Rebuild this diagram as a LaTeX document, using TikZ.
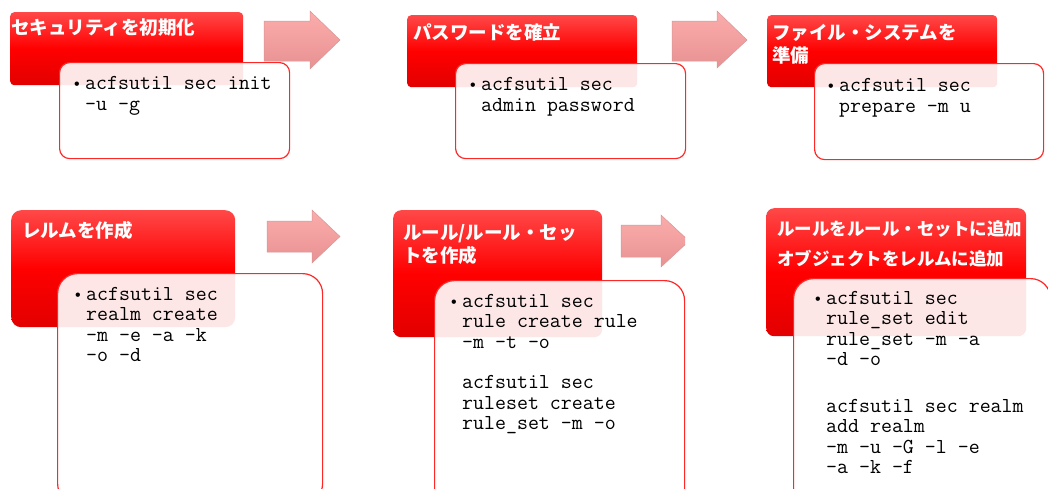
\documentclass[tikz,border=0pt]{standalone}
\usepackage{fontspec}
\newfontfamily\jpfont{Noto Sans CJK JP}
\newfontfamily\bulletfont{Liberation Sans}
\usepackage{tikz}
\definecolor{HeadTop}{RGB}{255,72,72}
\definecolor{HeadMid}{RGB}{255,0,0}
\definecolor{HeadBot}{RGB}{226,0,0}
\definecolor{ArrowTop}{RGB}{252,172,172}
\definecolor{ArrowBot}{RGB}{232,146,146}
\definecolor{ArrowEdge}{RGB}{214,150,150}
\definecolor{CmdEdge}{RGB}{255,40,40}

\newcommand{\tstrut}{\rule{0pt}{17pt}}
\newcommand{\bul}{\makebox[11pt][l]{\rule{0pt}{16pt}{\bulletfont\fontsize{16}{16}\selectfont •}}}
\newcommand{\ind}{\hspace*{11pt}}

\tikzset{
  headbox/.style={anchor=north west, inner sep=0pt, rounded corners=#1,
    top color=HeadTop, bottom color=HeadBot, middle color=HeadMid},
  headbox/.default=4pt,
  headtitle/.style={anchor=north west, inner sep=0pt, text=white, align=left,
    font=\jpfont\bfseries\fontsize{18.5}{23}\selectfont},
  cmdbox/.style={anchor=north west, inner sep=0pt, draw=CmdEdge, line width=1.2pt,
    fill=white, fill opacity=0.9, text opacity=1, rounded corners=#1},
  cmdbox/.default=10pt,
  cmdtext/.style={anchor=north west, inner sep=0pt, align=left,
    font=\ttfamily\fontsize{21.3}{20.5}\selectfont},
  flowarrow/.style={top color=ArrowTop, bottom color=ArrowBot, draw=ArrowEdge, line width=0.5pt}
}

\begin{document}
\begin{tikzpicture}[x=1pt, y=-1pt]
  \useasboundingbox (0,0) rectangle (1048,488);
  \clip (0,0) rectangle (1048,488);

  % top row
  \node[headbox, minimum width=233, minimum height=73] (initHead) at ( 10, 12) {};
  \node[headbox, minimum width=230, minimum height=72] (pwdHead)  at (407, 15) {};
  \node[headbox, minimum width=230, minimum height=72] (fsHead)   at (767, 15) {};

  \node[cmdbox, minimum width=230, minimum height=96] (initBox) at ( 59, 62) {};
  \node[cmdbox, minimum width=230, minimum height=95] (pwdBox)  at (455, 63) {};
  \node[cmdbox, minimum width=229, minimum height=96] (fsBox)   at (814, 63) {};

  \node[headtitle] (initTitle) at ( 11, 17) {\tstrut セキュリティを初期化};
  \node[headtitle] (pwdTitle)  at (413, 22) {\tstrut パスワードを確立};
  \node[headtitle] (fsTitle)   at (772, 22) {\tstrut ファイル・システムを\\準備};

  \node[cmdtext] (initCmd) at ( 74, 73.5) {\bul acfsutil sec init\\ \ind -u -g};
  \node[cmdtext] (pwdCmd)  at (470, 74.5) {\bul acfsutil sec\\ \ind admin password};
  \node[cmdtext] (fsCmd)   at (828, 75.5) {\bul acfsutil sec\\ \ind prepare -m u};

  \path[flowarrow] (264,21) -- (310,21) -- (310,11) -- (340,40) -- (310,69) -- (310,61) -- (264,61) -- cycle;
  \path[flowarrow] (672,21) -- (717,21) -- (717,11) -- (747,40) -- (717,68) -- (717,61) -- (672,61) -- cycle;

  % bottom row
  \node[headbox=10pt, minimum width=224, minimum height=117] (realmHead) at ( 11, 210) {};
  \node[headbox=8pt,  minimum width=209, minimum height=127] (ruleHead)  at (393, 210) {};
  \node[headbox=8pt,  minimum width=260, minimum height=128] (addHead)   at (766, 208) {};

  \node[cmdbox=20pt, minimum width=265, minimum height=230] (realmBox) at ( 57, 273) {};
  \node[cmdbox=20pt, minimum width=250, minimum height=230] (ruleBox)  at (434, 280) {};
  \node[cmdbox=20pt, minimum width=257, minimum height=230] (addBox)   at (793, 278) {};

  \node[headtitle] (realmTitle) at ( 22, 220.5) {\tstrut レルムを作成};
  \node[headtitle] (ruleTitle)  at (403, 222) {\tstrut ルール/ルール・セッ\\トを作成};
  \node[headtitle, font=\jpfont\bfseries\fontsize{17.5}{30}\selectfont] (addTitle) at (777, 218.5)
    {\tstrut ルールをルール・セットに追加\\オブジェクトをレルムに追加};

  \node[cmdtext] (realmCmd) at ( 75, 284) {\bul acfsutil sec\\ \ind realm create\\ \ind -m -e -a -k\\ \ind -o -d};
  \node[cmdtext] (ruleCmd)  at (451, 291) {\bul acfsutil sec\\ \ind rule create rule\\ \ind -m -t -o\\[20pt]
    \ind acfsutil sec\\ \ind ruleset create\\ \ind rule\_set -m -o};
  \node[cmdtext] (addCmd)   at (815, 288) {\bul acfsutil sec\\ \ind rule\_set edit\\ \ind rule\_set -m -a\\ \ind -d -o\\[26pt]
    \ind acfsutil sec realm\\ \ind add realm\\ \ind -m -u -G -l -e\\ \ind -a -k -f};

  \path[flowarrow] (267,221) -- (312,221) -- (312,210) -- (340,236.5) -- (312,263) -- (312,252) -- (267,252) -- cycle;
  \begin{scope}
    \clip (600,200) rectangle (685,280);
    \path[flowarrow] (621,225) -- (661,225) -- (661,215) -- (689,241) -- (661,267) -- (661,257) -- (621,257) -- cycle;
  \end{scope}
\end{tikzpicture}
\end{document}
